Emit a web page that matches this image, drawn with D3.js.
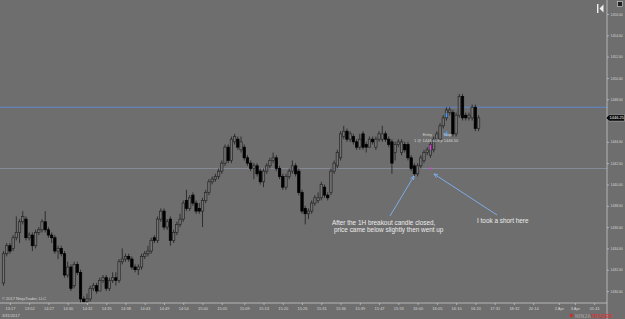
<!DOCTYPE html>
<html>
<head>
<meta charset="utf-8">
<script src="https://d3js.org/d3.v7.min.js"></script>
<style>
  html, body { margin: 0; padding: 0; background: #6e6e6e; }
  svg { display: block; font-family: "Liberation Sans", Arial, sans-serif; }
  .axis text { fill: #d4d4d4; font-size: 4px; }
  .axis.py text { font-size: 3.4px; }
  .axis line { stroke: #c8c8c8; stroke-width: 0.7; }
  .axis path { display: none; }
  .note { fill: #ececec; font-size: 6.4px; }
  .tiny { fill: #d8d8d8; font-size: 4px; }
</style>
</head>
<body>
<script>
// ES minute bars
var open = [1430.75,1433.50,1434.25,1434.00,1435.00,1435.50,1436.50,1436.75,1435.00,1435.25,
  1434.25,1435.50,1435.75,1436.50,1435.75,1435.25,1435.00,1433.75,1434.00,1433.50,
  1431.50,1432.25,1430.50,1432.50,1431.75,1429.25,1429.00,1429.25,1430.25,1430.50,
  1430.00,1431.00,1431.25,1430.25,1431.00,1431.25,1431.00,1432.75,1433.00,1433.25,
  1433.00,1432.25,1432.00,1432.25,1433.25,1433.50,1433.75,1435.00,1434.75,1436.75,
  1437.50,1436.00,1436.75,1434.75,1435.50,1436.25,1436.75,1438.50,1437.75,1439.00,
  1438.25,1437.75,1437.50,1438.50,1439.25,1440.25,1440.50,1440.75,1441.25,1442.00,
  1443.50,1442.25,1444.00,1444.25,1443.25,1443.50,1442.50,1442.00,1441.50,1441.75,
  1441.25,1440.25,1441.25,1441.75,1442.25,1442.50,1441.50,1440.75,1439.75,1440.75,
  1441.25,1441.75,1441.25,1439.25,1437.75,1437.25,1437.50,1438.25,1438.50,1438.75,
  1439.75,1439.00,1439.25,1441.25,1441.75,1442.50,1444.50,1445.00,1444.25,1444.50,
  1444.00,1443.50,1444.75,1443.75,1443.50,1444.25,1443.50,1444.25,1444.25,1444.75,
  1444.25,1444.00,1443.00,1443.75,1443.00,1443.75,1443.75,1442.50,1441.75,1441.00,
  1441.75,1442.25,1443.00,1442.75,1443.25,1444.25,1444.25,1445.50,1446.25,1446.75,
  1446.75,1444.75,1446.50,1448.25,1446.50,1446.25,1446.25,1447.25,1445.25];
var high = [1433.75,1434.50,1434.50,1435.25,1437.00,1436.75,1437.50,1437.00,1435.50,1435.50,
  1435.75,1436.00,1436.75,1437.50,1436.00,1435.50,1435.25,1434.25,1434.25,1433.75,
  1432.75,1432.50,1432.75,1432.75,1432.00,1429.50,1429.75,1430.50,1430.75,1430.75,
  1431.25,1431.50,1431.50,1431.25,1431.75,1431.75,1433.00,1434.00,1433.50,1433.50,
  1433.25,1432.50,1432.50,1433.50,1433.75,1434.25,1435.00,1435.25,1437.00,1437.75,
  1437.75,1436.75,1437.00,1435.75,1436.50,1437.25,1438.50,1439.50,1439.00,1439.25,
  1438.50,1438.25,1438.75,1439.50,1440.50,1440.75,1441.00,1441.50,1442.25,1443.75,
  1443.75,1444.50,1444.75,1444.50,1444.50,1443.75,1442.75,1442.25,1442.00,1442.00,
  1441.50,1441.50,1442.00,1442.50,1443.00,1442.75,1441.75,1441.00,1441.00,1441.50,
  1442.25,1442.00,1441.50,1439.50,1438.00,1437.75,1438.50,1439.00,1439.25,1440.25,
  1440.00,1439.25,1441.50,1442.25,1443.25,1445.00,1445.50,1445.25,1445.00,1444.75,
  1444.25,1444.75,1445.00,1444.00,1444.50,1444.50,1444.50,1445.00,1445.50,1445.00,
  1444.50,1444.25,1444.00,1444.25,1444.25,1444.00,1444.00,1442.75,1442.00,1442.00,
  1442.75,1443.25,1443.50,1444.00,1444.50,1445.00,1445.75,1446.50,1447.25,1447.25,
  1447.00,1446.75,1448.50,1448.50,1446.75,1446.75,1447.50,1447.50,1446.50];
var low = [1430.50,1433.25,1433.50,1433.75,1434.75,1434.50,1436.25,1434.75,1434.75,1433.75,
  1434.00,1435.25,1435.50,1435.50,1435.00,1434.50,1433.50,1433.00,1433.25,1431.25,
  1431.25,1430.00,1430.25,1431.50,1428.75,1428.75,1428.75,1429.00,1430.00,1429.75,
  1430.00,1430.75,1430.00,1430.00,1430.75,1430.50,1430.75,1432.50,1432.75,1432.75,
  1432.00,1431.75,1431.50,1432.00,1433.00,1433.25,1433.50,1434.50,1434.50,1436.50,
  1435.75,1435.75,1434.25,1434.50,1435.25,1436.00,1436.50,1437.50,1437.50,1438.00,
  1437.25,1437.25,1436.00,1438.25,1439.00,1440.00,1440.25,1440.50,1441.00,1441.75,
  1442.00,1442.00,1443.75,1443.25,1443.00,1442.25,1441.75,1441.25,1440.50,1440.75,
  1440.00,1439.75,1441.00,1441.50,1442.00,1441.25,1440.50,1439.50,1439.50,1440.50,
  1441.00,1440.75,1439.00,1437.25,1436.25,1436.75,1437.25,1438.00,1438.25,1438.50,
  1438.75,1438.50,1439.00,1441.00,1441.50,1442.25,1444.25,1444.00,1444.00,1443.75,
  1443.25,1443.25,1443.25,1443.00,1443.50,1443.75,1443.25,1444.00,1444.00,1444.00,
  1443.50,1441.00,1442.25,1443.50,1442.75,1443.00,1442.25,1441.25,1440.75,1440.75,
  1441.50,1442.00,1442.75,1442.50,1443.00,1444.00,1444.00,1445.25,1446.00,1446.50,
  1444.50,1444.50,1446.25,1446.00,1446.00,1446.00,1446.00,1445.00,1445.00];
var close = [1433.50,1434.25,1433.75,1435.00,1435.50,1436.50,1437.00,1435.00,1435.25,1434.25,
  1435.50,1435.75,1436.50,1435.75,1435.25,1435.00,1433.75,1434.00,1433.50,1431.50,
  1432.25,1430.25,1432.50,1431.75,1429.25,1429.00,1429.25,1430.25,1430.50,1430.00,
  1431.00,1431.25,1430.25,1431.00,1431.25,1431.00,1432.75,1433.00,1433.25,1433.00,
  1432.25,1432.00,1432.25,1433.25,1433.50,1433.75,1434.75,1434.75,1436.75,1437.50,
  1436.00,1436.50,1434.75,1435.50,1436.25,1436.75,1438.25,1437.75,1438.75,1438.25,
  1437.50,1437.50,1438.50,1439.25,1440.25,1440.50,1440.75,1441.25,1442.00,1443.50,
  1442.25,1444.25,1444.50,1443.50,1444.00,1442.50,1442.00,1441.50,1441.75,1441.00,
  1440.25,1441.25,1441.75,1442.25,1442.50,1441.50,1440.75,1439.75,1440.75,1441.25,
  1441.75,1441.00,1439.25,1437.50,1437.25,1437.50,1438.25,1438.75,1438.75,1440.00,
  1439.00,1438.75,1441.25,1442.00,1443.00,1444.75,1445.00,1444.25,1444.75,1444.00,
  1443.50,1444.25,1443.50,1443.50,1444.25,1444.00,1444.25,1444.75,1444.75,1444.25,
  1443.75,1442.00,1443.75,1444.00,1444.00,1443.25,1442.50,1441.50,1441.00,1441.75,
  1442.50,1443.00,1443.25,1443.75,1444.25,1444.75,1445.50,1446.25,1447.00,1447.00,
  1444.75,1446.50,1448.25,1446.25,1446.25,1446.50,1447.25,1445.25,1446.25];

// 1446.00 sits under the last-price flag, so it is not listed
var priceTicks = [1430,1432,1434,1436,1438,1440,1442,1444,1448,1450,1452,1454,1456];
var timeLabels = ["13:17","13:52","14:27","14:30","14:32","14:35","14:38","14:43","14:49","14:54",
  "15:00","15:05","15:09","15:13","15:20","15:26","15:31","15:36","15:39","15:47",
  "15:53","16:00","16:05","16:10","16:20","17:31","18:32","20:14","2 Apr","3 Apr","01:41"];
var timeSlots = [2,8,14,20,26,32,38,44,50,56,62,68,75,81,87,93,99,105,111,117,123,129,135,141,147,153,159,165,173,178,184];

var levels = [1447.25, 1441.5];      // drawn horizontal lines
var lastPrice = 1446.25;
var entryBar = 133, entryPrice = 1443.50, entryMark = 1441.50;
var stopBar = 138, stopPrice = 1446.50, stopMark = 1444.75;

var W = 625, H = 319, axisX = 607, axisY = 303;

var bars = open.map(function(o, i) {
  return {i: i, o: o, h: high[i], l: low[i], c: close[i]};
});

var x = d3.scaleLinear().domain([0, 184]).range([3.5, 3.5 + 184 * 3.21]);
var y = d3.scaleLinear().domain([1430, 1456]).range([291, 14]);

var svg = d3.select("body").append("svg")
    .attr("width", W).attr("height", H);

svg.append("rect").attr("width", W).attr("height", H).attr("fill", "#6e6e6e");

svg.append("defs").append("clipPath").attr("id", "plot")
  .append("rect").attr("width", axisX).attr("height", axisY);

var plot = svg.append("g").attr("clip-path", "url(#plot)");

// horizontal lines
plot.selectAll(".level").data(levels).enter().append("line")
    .attr("x1", 0).attr("x2", axisX)
    .attr("y1", function(d) { return y(d); })
    .attr("y2", function(d) { return y(d); })
    .attr("stroke", function(d, i) { return i == 0 ? "#5f8ad8" : "#8a8f9c"; })
    .attr("stroke-width", 0.9);

// candles
var bw = 2.4;
var g = plot.selectAll(".bar").data(bars).enter().append("g");
g.append("line")
    .attr("x1", function(d) { return x(d.i); })
    .attr("x2", function(d) { return x(d.i); })
    .attr("y1", function(d) { return y(d.h); })
    .attr("y2", function(d) { return y(d.l); })
    .attr("stroke", "#1e1e1e").attr("stroke-width", 0.8);
g.append("rect")
    .attr("x", function(d) { return x(d.i) - bw / 2; })
    .attr("width", bw)
    .attr("y", function(d) { return y(Math.max(d.o, d.c)); })
    .attr("height", function(d) { return Math.max(0.6, Math.abs(y(d.o) - y(d.c))); })
    .attr("fill", function(d) { return d.c < d.o ? "#000" : "#727272"; })
    .attr("stroke", function(d) { return d.c < d.o ? "#000" : "#262626"; })
    .attr("stroke-width", 0.7);

// trade markers
plot.append("rect").attr("x", x(entryBar) - 0.8).attr("y", y(entryPrice) - 2.5)
    .attr("width", 1.6).attr("height", 5).attr("fill", "#e23be2");
plot.append("rect").attr("x", x(entryBar) - 0.9).attr("y", y(entryMark) - 0.9)
    .attr("width", 1.8).attr("height", 1.8).attr("fill", "#e23be2");
plot.append("rect").attr("x", x(stopBar) - 0.8).attr("y", y(stopPrice) - 2)
    .attr("width", 1.6).attr("height", 4).attr("fill", "#3d9bff");
plot.append("rect").attr("x", x(stopBar) - 0.8).attr("y", y(stopMark) - 2.5)
    .attr("width", 1.6).attr("height", 5).attr("fill", "#3d9bff");

plot.append("text").attr("class", "tiny").attr("x", x(entryBar) - 3).attr("y", y(1444.5) - 0.5)
    .attr("text-anchor", "middle").text("Entry");
plot.append("text").attr("class", "tiny").attr("x", x(entryBar) - 5).attr("y", y(1444.0) + 0.5)
    .attr("text-anchor", "middle").text("1 @ 1444.00");
plot.append("text").attr("class", "tiny").attr("x", x(stopBar) + 1).attr("y", y(1444.5) - 0.5)
    .attr("text-anchor", "middle").text("Stop");
plot.append("text").attr("class", "tiny").attr("x", x(stopBar) + 1).attr("y", y(1444.0) + 0.5)
    .attr("text-anchor", "middle").text("Stp 1446.50");

// annotations
svg.append("defs").append("marker").attr("id", "ah")
    .attr("viewBox", "0 0 10 10").attr("refX", 9).attr("refY", 5)
    .attr("markerWidth", 5).attr("markerHeight", 5).attr("orient", "auto")
  .append("path").attr("d", "M0,1L10,5L0,9").attr("fill", "none")
    .attr("stroke", "#7fb2f2").attr("stroke-width", 1.6);

svg.append("line").attr("x1", 390).attr("y1", 216).attr("x2", 414).attr("y2", 176)
    .attr("stroke", "#7fb2f2").attr("stroke-width", 0.9).attr("marker-end", "url(#ah)");
svg.append("line").attr("x1", 497).attr("y1", 215).attr("x2", 434).attr("y2", 174)
    .attr("stroke", "#7fb2f2").attr("stroke-width", 0.9).attr("marker-end", "url(#ah)");

svg.append("text").attr("class", "note").attr("x", 332).attr("y", 224.5)
    .text("After the 1H breakout candle closed,");
svg.append("text").attr("class", "note").attr("x", 334).attr("y", 232)
    .text("price came below slightly then went up");
svg.append("text").attr("class", "note").attr("x", 477).attr("y", 222.5)
    .text("I took a short here");

// axes
svg.append("line").attr("x1", axisX).attr("x2", axisX).attr("y1", 0).attr("y2", H)
    .attr("stroke", "#c8c8c8").attr("stroke-width", 0.8);
svg.append("line").attr("x1", 0).attr("x2", axisX).attr("y1", axisY).attr("y2", axisY)
    .attr("stroke", "#c8c8c8").attr("stroke-width", 0.8);

svg.append("g").attr("class", "axis py")
    .attr("transform", "translate(" + axisX + ",0)")
    .call(d3.axisRight(y).tickValues(priceTicks).tickFormat(d3.format(".2f"))
      .tickSize(2).tickPadding(1.5));

svg.append("g").attr("class", "axis")
    .attr("transform", "translate(0," + axisY + ")")
    .call(d3.axisBottom(x).tickValues(timeSlots)
      .tickFormat(function(d, i) { return timeLabels[i]; })
      .tickSize(2).tickPadding(2));

// last price flag
var ly = y(lastPrice);
svg.append("path")
    .attr("d", "M" + (axisX - 1) + "," + ly + "L" + (axisX + 2) + "," + (ly - 3.2) +
      "L" + (W - 0.5) + "," + (ly - 3.2) + "L" + (W - 0.5) + "," + (ly + 3.2) + "L" + (axisX + 2) + "," + (ly + 3.2) + "Z")
    .attr("fill", "#0a0a0a").attr("stroke", "#d0d0d0").attr("stroke-width", 0.4);
svg.append("text").attr("x", axisX + 2.5).attr("y", ly + 1.5)
    .attr("fill", "#ffffff").attr("font-size", "4px").text(d3.format(".2f")(lastPrice));

// chrome bits
svg.append("text").attr("class", "tiny").attr("x", 2).attr("y", 300).text("\u00a9 2017 NinjaTrader, LLC");
svg.append("text").attr("class", "tiny").attr("x", 2).attr("y", 317).text("3/31/2017");

svg.append("rect").attr("x", 597).attr("y", 4).attr("width", 1.4).attr("height", 9).attr("fill", "#f0f0f0");
svg.append("path").attr("d", "M599.5,8.5L603.5,4.5L603.5,12.5Z").attr("fill", "#f0f0f0");
svg.append("rect").attr("x", 617.5).attr("y", 1.5).attr("width", 5).attr("height", 5)
    .attr("fill", "#222").attr("stroke", "#ddd").attr("stroke-width", 0.6);

var logo = svg.append("text").attr("x", 575).attr("y", 317.5).attr("font-size", "5px")
    .attr("font-weight", "bold").attr("letter-spacing", "0.2px");
logo.append("tspan").attr("fill", "#9a9a9a").text("NINJA");
logo.append("tspan").attr("fill", "#d23a3a").text("TRADER");
svg.append("circle").attr("cx", 571.5).attr("cy", 315.5).attr("r", 1.8).attr("fill", "#c83030");
</script>
</body>
</html>
